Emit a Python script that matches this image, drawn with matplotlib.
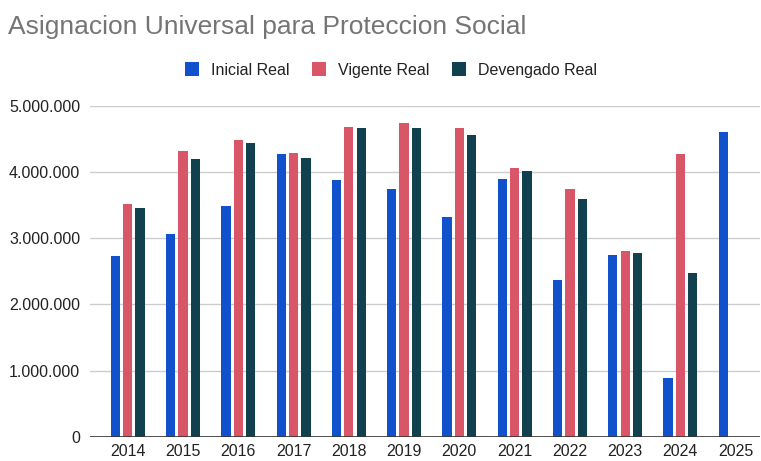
import matplotlib
matplotlib.use("Agg")
import matplotlib.pyplot as plt
import numpy as np
from matplotlib.patches import Patch
from matplotlib.ticker import FuncFormatter

years = ["2014", "2015", "2016", "2017", "2018", "2019", "2020", "2021", "2022", "2023", "2024", "2025"]
inicial_real = [2730000, 3060000, 3490000, 4270000, 3880000, 3740000, 3320000, 3900000, 2360000, 2750000, 890000, 4610000]
vigente_real = [3510000, 4310000, 4480000, 4290000, 4680000, 4740000, 4660000, 4060000, 3740000, 2810000, 4270000, np.nan]
devengado_real = [3450000, 4190000, 4440000, 4210000, 4660000, 4660000, 4560000, 4020000, 3590000, 2770000, 2480000, np.nan]
series_names = ["Inicial Real", "Vigente Real", "Devengado Real"]
colors = ["#1152cc", "#d85668", "#11404e"]
yticks = [0, 1000000, 2000000, 3000000, 4000000, 5000000]

plt.rcParams['font.family'] = ['Liberation Sans', 'DejaVu Sans']

W, H = 761, 461
fig = plt.figure(figsize=(W / 100, H / 100), dpi=100)
ax = fig.add_axes([90 / W, (H - 436.7) / H, (760 - 90) / W, (436.7 - 105.7) / H])

x = np.arange(len(years))
bw = 0.168
step = 0.223
for i, (vals, c, name) in enumerate(zip([inicial_real, vigente_real, devengado_real], colors, series_names)):
    ax.bar(x + (i - 1) * step, vals, width=bw, color=c, label=name, zorder=3)

ax.set_xlim(-0.684, 11.44)
ax.set_ylim(0, 5000000)
ax.set_yticks(yticks)
ax.yaxis.set_major_formatter(FuncFormatter(lambda v, p: f"{int(v):,}".replace(",", ".")))
ax.set_xticks(x)
ax.set_xticklabels(years)
ax.grid(axis='y', color='#cccccc', linewidth=1, zorder=0)
ax.axhline(0, color='#333333', linewidth=1.2, zorder=4)
for s in ax.spines.values():
    s.set_visible(False)
ax.tick_params(axis='both', length=0, labelsize=11.5, colors='#222222')
ax.tick_params(axis='y', pad=7)
ax.tick_params(axis='x', pad=5)

fig.text(8 / W, 1 - 27 / H, "Asignacion Universal para Proteccion Social", fontsize=19,
         color='#757575', va='center', ha='left')

handles = [Patch(facecolor=c, edgecolor='none') for c in colors]
fig.legend(handles, series_names, loc='center', bbox_to_anchor=(391 / W, 1 - 70 / H), ncol=3,
           frameon=False, fontsize=11.5, handlelength=0.9, handleheight=0.9,
           handletextpad=0.75, columnspacing=1.4, labelcolor='#222222')

fig.savefig("out.png", dpi=100)
